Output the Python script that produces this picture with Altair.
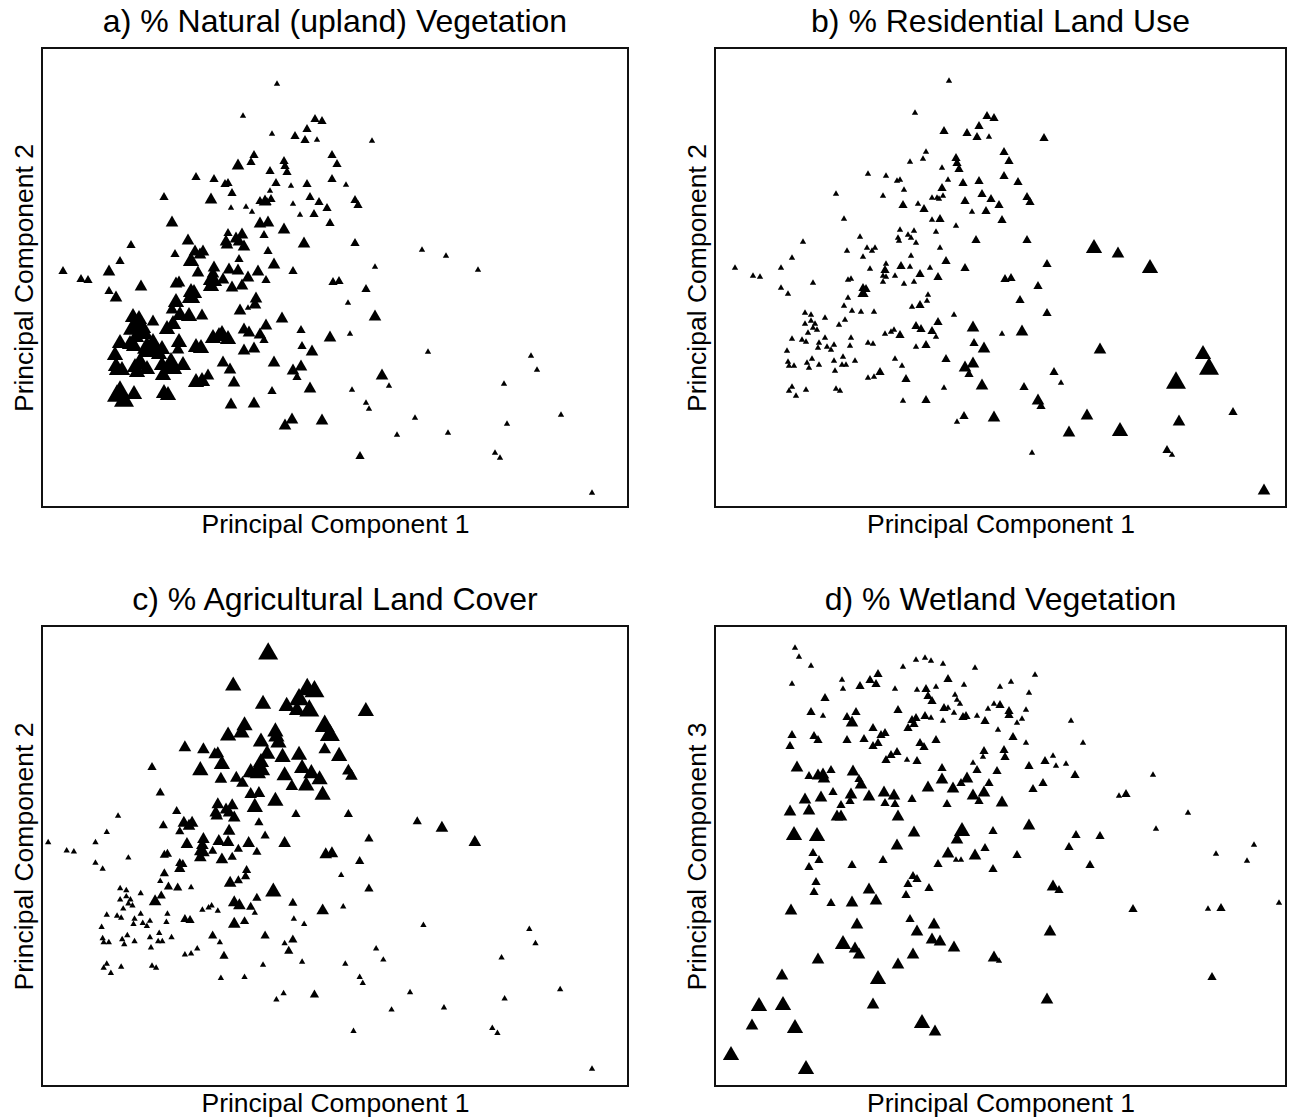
import altair as alt
import pandas as pd

# Shared site scores (PC1, PC2) used by panels a, b, c (arbitrary score units)
pc1 = [235,201,273,280,230,265,253,263,275,212,209,196,242,243,245,228,154,172,183,186,
       234,249,265,228,190,122,169,218,223,225,229,268,277,285,251,189,204,210,258,272,
       218,226,288,242,130,186,200,222,184,185,194,197,202,262,89,146,78,133,153,158,
       161,149,226,197,232,172,21,39,46,67,156,187,196,216,251,171,290,290,330,295,
       304,313,316,313,380,404,436,333,291,297,
       67,74,99,134,137,149,152,148,150,169,172,169,181,190,200,206,224,134,130,138,
       147,160,214,213,198,206,240,91,97,111,131,125,91,97,101,99,103,94,224,202,
       207,218,259,288,171,177,180,186,222,78,88,92,105,111,120,113,117,104,137,136,
       154,159,202,212,260,270,73,181,232,259,251,255,268,74,75,80,93,98,95,105,
       120,129,128,132,141,121,188,166,154,160,192,78,75,82,92,122,126,230,189,212,
       250,243,280,
       324,306,333,308,386,489,495,462,340,347,310,324,327,373,355,406,465,519,318,453,
       458,550]
pc2 = [424,392,389,387,374,379,372,368,368,353,346,343,347,342,336,337,331,329,324,325,
       325,322,324,317,315,311,309,307,307,306,309,311,306,300,304,300,301,296,293,294,
       285,286,285,279,286,275,274,273,267,264,270,267,262,265,263,268,247,254,257,254,
       257,248,257,249,244,241,237,229,228,237,236,239,238,237,237,235,353,329,367,344,
       323,308,303,265,258,252,238,241,226,227,
       217,211,222,225,226,217,216,211,211,229,228,223,229,221,223,231,228,207,199,194,
       193,193,210,204,198,200,190,192,190,187,185,180,181,184,181,177,175,172,183,179,
       176,174,178,171,171,173,175,170,168,166,165,163,162,167,160,158,155,157,167,159,
       162,161,158,160,162,157,154,146,146,142,138,131,120,143,139,139,142,146,137,140,
       144,148,140,140,144,134,139,133,127,128,126,118,114,109,115,116,114,117,104,105,
       89,83,88,
       219,205,192,174,156,152,138,124,133,122,118,105,99,90,73,75,84,93,52,55,
       50,15]
# symbol size class (1 = smallest ... 5 = largest) for each panel
cls_a = [1,1,2,2,1,2,2,2,1,2,2,3,2,2,2,2,2,2,2,2,
         2,1,2,1,2,2,3,2,3,2,2,2,2,2,1,1,1,1,1,2,
         3,3,2,3,3,2,3,2,3,3,3,3,3,3,2,3,2,2,3,3,
         3,4,2,2,3,3,2,2,2,3,3,3,3,3,2,3,2,2,1,2,
         1,2,2,2,1,1,1,1,2,2,
         2,3,3,3,3,4,4,4,4,4,4,4,3,3,3,3,2,4,3,4,
         4,3,3,3,3,1,3,4,4,3,4,4,5,4,4,4,4,4,3,3,
         3,3,2,3,4,4,4,4,2,4,4,4,5,4,4,4,4,4,4,3,
         4,4,3,3,2,3,4,3,3,3,3,2,3,4,4,4,4,5,4,4,
         4,4,4,4,4,4,3,3,4,4,3,5,5,5,4,4,4,2,3,3,
         3,3,3,
         2,1,3,1,1,1,1,1,3,1,1,1,1,1,1,1,1,1,2,1,
         1,1]
cls_b = [1,1,2,2,2,2,2,2,1,1,1,1,2,2,2,1,1,1,1,1,
         1,2,2,2,1,1,1,1,1,1,1,2,2,2,2,2,1,2,1,2,
         1,2,2,1,1,1,1,1,1,1,1,1,1,2,1,1,1,1,1,1,
         1,1,1,1,2,1,1,1,1,1,1,2,1,1,2,2,2,2,2,2,
         2,2,2,2,4,3,4,2,2,2,
         1,1,1,1,1,2,2,2,2,1,1,1,1,1,1,2,2,1,1,1,
         1,1,1,1,1,2,1,1,1,1,1,1,1,1,1,1,1,1,2,2,
         2,2,3,1,1,1,1,2,1,1,1,1,1,1,1,1,1,1,1,1,
         1,1,1,2,2,3,1,1,2,3,3,2,3,1,1,1,1,1,1,1,
         1,1,1,1,1,1,1,2,1,1,2,1,1,1,1,1,1,1,1,2,
         2,1,3,
         2,2,2,3,3,4,5,5,2,1,2,3,2,3,3,4,3,2,1,2,
         1,3]
cls_c = [5,4,5,5,4,5,4,4,5,4,4,4,4,4,4,4,3,3,3,3,
         4,4,4,4,4,2,4,4,4,4,4,4,4,4,4,3,3,3,3,4,
         3,3,4,4,2,3,3,4,3,3,3,3,3,2,1,2,1,2,3,3,
         3,2,2,3,2,3,1,1,1,1,3,3,3,3,3,3,5,3,4,5,
         4,3,3,2,2,3,3,2,3,3,
         1,1,1,2,2,2,2,2,2,3,3,3,2,3,2,2,2,2,1,2,
         2,1,2,2,3,2,4,1,1,1,2,3,1,1,1,1,1,1,2,3,
         3,2,2,3,1,1,1,1,1,1,1,1,1,1,1,1,1,1,1,1,
         2,2,3,2,1,1,1,2,2,2,1,2,1,1,1,1,1,1,1,1,
         1,1,1,1,1,1,1,1,1,1,2,1,1,1,1,1,1,1,1,1,
         1,1,2,
         2,1,2,1,1,1,1,1,1,1,1,1,1,1,1,1,1,1,1,1,
         1,1]

# Panel d: PC1 vs PC3
d_pc1 = [80,84,96,77,127,128,110,145,155,161,163,188,201,210,216,228,260,180,202,211,
         221,233,249,213,217,240,242,245,183,197,201,199,193,210,216,228,229,233,239,248,
         251,262,270,273,279,285,285,283,96,108,132,137,141,158,166,170,163,158,77,75,
         99,103,132,149,221,205,209,171,176,182,192,202,258,269,268,289,290,82,94,103,
         108,109,116,138,144,146,227,227,213,238,246,252,262,274,282,90,106,118,126,136,
         135,154,169,170,179,180,197,183,232,258,264,269,287,75,94,122,126,79,102,199,
         247,242,278,182,98,233,260,270,
         320,296,314,294,294,311,307,302,356,298,311,368,338,330,314,341,351,360,438,328,
         318,404,411,473,314,361,385,441,354,302,501,539,
         104,94,137,168,223,241,246,278,101,99,116,137,154,161,198,202,193,214,191,76,
         142,195,202,219,217,225,239,279,128,140,144,198,103,183,67,163,44,68,158,37,
         80,207,220,16,91,
         375,532,338,344,418,493,506,564,335,284,497,332]
d_pc3 = [439,430,421,403,407,398,389,401,407,403,413,420,427,429,426,423,419,398,397,398,
         400,408,402,391,386,392,387,383,377,367,369,363,359,371,369,366,379,379,374,370,
         371,371,366,378,383,382,400,357,375,371,370,365,375,359,352,354,344,341,352,341,
         351,347,347,348,347,344,340,327,332,335,327,326,324,336,330,337,330,320,311,312,
         313,309,317,316,308,303,319,308,300,299,304,309,317,304,316,288,290,295,282,293,
         286,291,295,284,292,283,288,271,283,292,286,295,285,276,277,271,271,253,252,255,
         257,248,256,242,234,234,232,239,
         412,405,394,376,372,377,368,364,366,350,344,344,331,326,321,321,323,312,312,304,
         298,291,293,274,262,252,251,258,240,232,233,242,
         227,220,222,227,223,227,227,218,205,195,184,185,198,187,211,208,203,199,192,177,
         163,168,156,163,148,146,140,130,144,139,133,133,128,123,112,109,82,83,83,62,
         60,65,56,33,19,
         222,226,201,197,178,178,179,184,156,126,110,88]
cls_d = [1,1,1,1,1,1,2,2,2,2,2,1,1,1,1,1,1,1,1,2,
         1,2,1,2,2,1,1,1,2,2,2,2,2,2,1,1,2,1,1,2,
         2,1,2,1,1,2,1,1,2,1,2,3,2,2,2,2,2,2,2,2,
         2,2,2,2,2,2,2,2,2,2,1,2,1,2,1,2,2,3,2,3,
         3,3,2,3,2,3,2,3,3,3,2,3,2,2,2,3,3,2,2,3,
         2,3,3,2,3,2,2,3,2,3,2,3,3,3,3,3,3,4,4,3,
         4,3,2,3,2,3,3,2,
         1,1,1,2,2,1,1,1,1,2,1,1,1,2,2,1,1,2,1,2,
         2,1,2,1,3,2,2,1,2,2,1,1,
         2,2,2,2,2,1,1,2,2,2,2,3,3,3,2,2,2,2,2,3,
         3,2,3,3,3,3,3,3,4,3,3,3,3,3,3,4,4,4,3,3,
         4,4,3,4,4,
         2,1,3,2,2,1,2,1,3,1,2,3]

titles = ["a) % Natural (upland) Vegetation", "b) % Residential Land Use",
          "c) % Agricultural Land Cover", "d) % Wetland Vegetation"]

df = pd.DataFrame({"pc1": pc1, "pc2": pc2, "a": cls_a, "b": cls_b, "c": cls_c})
dfd = pd.DataFrame({"pc1": d_pc1, "pc3": d_pc3, "d": cls_d})

FONT = "Liberation Sans"
size_scale = alt.Scale(type="pow", exponent=2, domain=[1, 5], range=[40, 400], zero=False)

AXIS = dict(grid=False, domain=False, ticks=False, labels=False,
            titleFont=FONT, titleFontSize=26.5, titleFontWeight="normal",
            titleColor="black", titlePadding=4)


def panel(data, ycol, scol, title, xdom, ydom, w, h, ytitle):
    return alt.Chart(data).mark_point(
        shape="triangle-up", filled=True, color="black", opacity=1, strokeWidth=0
    ).encode(
        x=alt.X("pc1:Q", scale=alt.Scale(domain=xdom, nice=False, zero=False),
                title="Principal Component 1", axis=alt.Axis(**AXIS)),
        y=alt.Y(f"{ycol}:Q", scale=alt.Scale(domain=ydom, nice=False, zero=False),
                title=ytitle, axis=alt.Axis(**AXIS)),
        size=alt.Size(f"{scol}:Q", scale=size_scale, legend=None),
    ).properties(
        width=w, height=h,
        title=alt.TitleParams(title, fontSize=32, font=FONT, fontWeight="normal",
                              anchor="middle", offset=9, color="black"),
    )


pa = panel(df, "pc2", "a", titles[0], [0, 586], [0, 459], 586, 459, "Principal Component 2")
pb = panel(df, "pc2", "b", titles[1], [1, 572], [-3, 456], 571, 459, "Principal Component 2")
pc = panel(df, "pc2", "c", titles[2], [15, 585], [-2.6, 448.3], 586, 460, "Principal Component 2")
pd_ = panel(dfd, "pc3", "d", titles[3], [0, 571], [0, 460], 571, 460, "Principal Component 3")

chart = alt.vconcat(
    alt.hconcat(pa, pb, spacing=54),
    alt.hconcat(pc, pd_, spacing=54),
    spacing=44,
).properties(
    padding={"left": 10, "top": 5, "right": 5, "bottom": 0},
    background="white",
).configure_view(
    stroke="#111", strokeWidth=2
)

chart.save("out.html", embed_options={"renderer": "svg", "actions": False})
